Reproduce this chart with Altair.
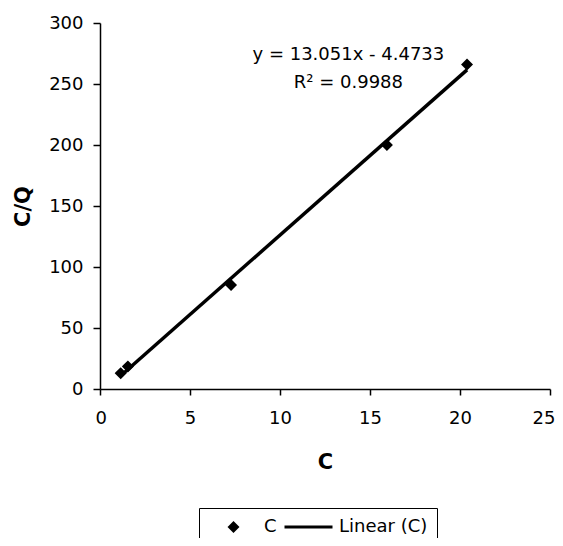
import altair as alt
import pandas as pd

# data
c_vals = [1.15, 1.55, 7.28, 15.94, 20.39]
cq_vals = [13.0, 18.5, 85.2, 200.0, 266.0]
series_names = ["C", "Linear (C)"]
x_ticks = [0, 5, 10, 15, 20, 25]
y_ticks = [0, 50, 100, 150, 200, 250, 300]
ann_text = ["y = 13.051x - 4.4733", "R² = 0.9988"]
ann_x = [13.8, 13.8]
ann_y = [273.8, 250.8]

FONT = "DejaVu Sans"

pts = pd.DataFrame({"C": c_vals, "CQ": cq_vals, "series": ["C"] * len(c_vals)})
ann = pd.DataFrame({"x": ann_x, "y": ann_y, "text": ann_text})

xscale = alt.Scale(domain=[0, 25], nice=False, zero=False)
yscale = alt.Scale(domain=[0, 300], nice=False)

xaxis = alt.Axis(title="C", values=x_ticks, titleY=73, titleBaseline="middle",
                 labelPadding=14, tickSize=6, labelFlush=True, labelFlushOffset=5)
yaxis = alt.Axis(title="C/Q", values=y_ticks, titleX=-77, titleY=183,
                 titleAngle=270, titleBaseline="middle", titleAlign="center",
                 labelPadding=10, tickSize=7, labelFlush=False)

legend = alt.Legend(
    title=None, orient="none", legendX=99, legendY=485, direction="horizontal",
    columns=2, clipHeight=20, padding=9, strokeColor="black", fillColor="white",
    labelFont=FONT, labelFontSize=18, labelColor="black", labelOffset=5,
    columnPadding=6, symbolStrokeColor="black", symbolFillColor="black",
    symbolStrokeWidth=3, cornerRadius=0,
)

x_enc = alt.X("C:Q", scale=xscale, axis=xaxis)
y_enc = alt.Y("CQ:Q", scale=yscale, axis=yaxis)

line = alt.Chart(pts).transform_regression("C", "CQ").mark_line(
    color="black", strokeWidth=3.5
).encode(x=x_enc, y=y_enc)

points = alt.Chart(pts).mark_point(
    filled=True, opacity=1, stroke="black", strokeWidth=3
).encode(
    x=x_enc,
    y=y_enc,
    shape=alt.Shape("series:N", scale=alt.Scale(domain=series_names, range=["diamond", "stroke"]), legend=legend),
    size=alt.Size("series:N", scale=alt.Scale(domain=series_names, range=[60, 2304]), legend=legend),
    color=alt.Color("series:N", scale=alt.Scale(domain=series_names, range=["black", "black"]), legend=legend),
)

text = alt.Chart(ann).mark_text(font=FONT, fontSize=18, color="black", align="center", baseline="middle").encode(
    x=alt.X("x:Q", scale=xscale),
    y=alt.Y("y:Q", scale=yscale),
    text="text:N",
)

chart = alt.layer(line, points, text).properties(
    width=450, height=366,
    autosize=alt.AutoSizeParams(type="none"),
    padding={"left": 92, "top": 15, "right": 5, "bottom": 149},
).configure_view(stroke=None).configure_axis(
    grid=False, labelFont=FONT, labelFontSize=18, labelColor="black",
    titleFont=FONT, titleFontSize=21, titleFontWeight="bold", titleColor="black",
    domainColor="black", domainWidth=1.5, tickColor="black", tickWidth=1.5,
)

chart.save("out.html", embed_options={"renderer": "svg", "actions": False})
